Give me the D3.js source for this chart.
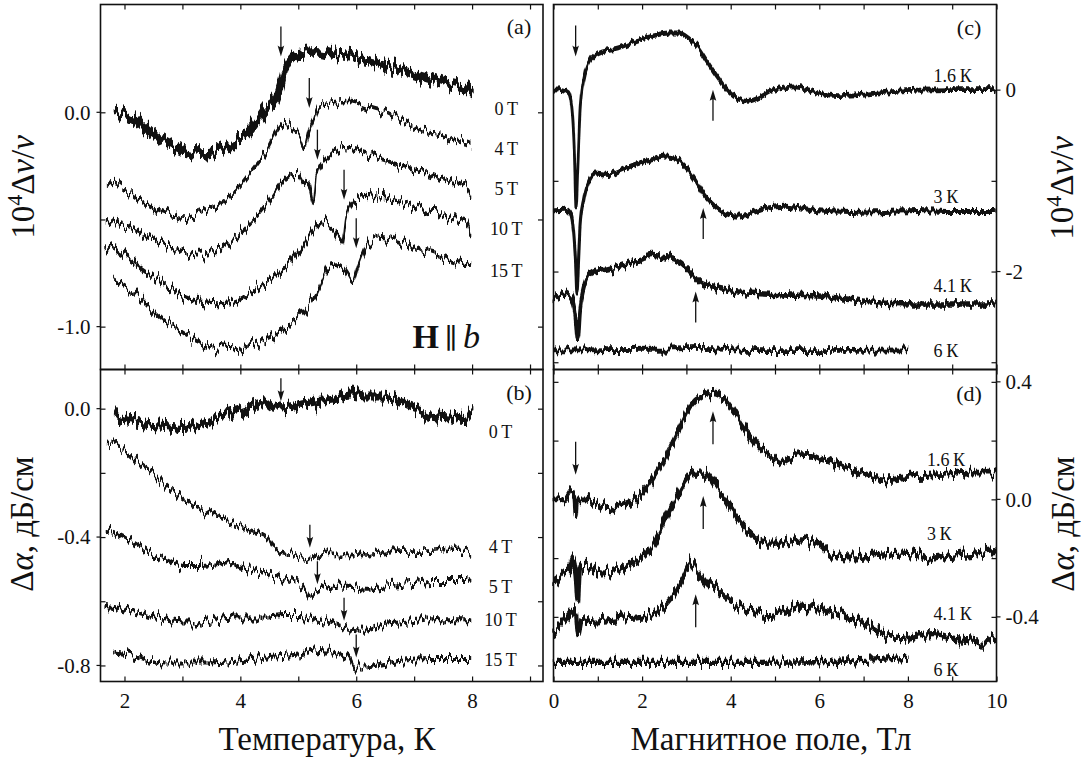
<!DOCTYPE html>
<html>
<head>
<meta charset="utf-8">
<script src="https://cdn.jsdelivr.net/npm/d3@7"></script>
<style>
  html, body { margin: 0; padding: 0; background: #fff; }
  svg, svg text { font-family: "Liberation Serif", "DejaVu Serif", serif; }
</style>
</head>
<body>
<script>
// ---------------- data ----------------
// (a) 10^4 Δv/v versus temperature, K, at fixed magnetic field
const fieldLabels = ["0\u2009Т", "4\u2009Т", "5\u2009Т", "10\u2009Т", "15\u2009Т"];
const dvT_0T = [[1.87,0.005],[2.17,-0.034],[2.46,-0.097],[2.74,-0.143],[3.03,-0.182],[3.31,-0.193],[3.6,-0.182],[3.89,-0.143],[4.17,-0.081],[4.46,0.028],[4.6,0.059],[4.69,0.121],[4.77,0.2],[4.89,0.254],[5.03,0.277],[5.31,0.285],[5.6,0.27],[5.89,0.262],[6.17,0.246],[6.46,0.223],[6.74,0.2],[7.03,0.176],[7.31,0.153],[7.6,0.129],[7.89,0.106],[7.97,0.09]];
const dvT_4T = [[1.71,-0.315],[1.89,-0.338],[2.17,-0.393],[2.46,-0.439],[2.74,-0.47],[3.03,-0.494],[3.31,-0.47],[3.6,-0.439],[3.89,-0.377],[4.17,-0.283],[4.46,-0.174],[4.63,-0.089],[4.74,-0.058],[4.89,-0.073],[5.03,-0.112],[5.11,-0.159],[5.17,-0.104],[5.26,-0.042],[5.37,0.028],[5.6,0.044],[5.89,0.051],[6.17,0.028],[6.46,0.005],[6.74,-0.034],[7.03,-0.073],[7.31,-0.097],[7.6,-0.12],[7.89,-0.143],[7.97,-0.151]];
const dvT_5T = [[1.69,-0.502],[1.89,-0.517],[2.17,-0.548],[2.46,-0.587],[2.74,-0.618],[3.03,-0.65],[3.31,-0.665],[3.6,-0.642],[3.89,-0.595],[4.17,-0.517],[4.46,-0.424],[4.74,-0.322],[4.89,-0.291],[5.0,-0.283],[5.09,-0.322],[5.2,-0.361],[5.26,-0.424],[5.31,-0.299],[5.4,-0.245],[5.54,-0.206],[5.77,-0.167],[6.06,-0.182],[6.46,-0.221],[6.74,-0.245],[7.03,-0.268],[7.31,-0.291],[7.6,-0.322],[7.89,-0.346],[7.97,-0.377]];
const dvT_10T = [[1.67,-0.626],[1.89,-0.657],[2.17,-0.704],[2.46,-0.759],[2.74,-0.813],[3.03,-0.86],[3.31,-0.883],[3.6,-0.891],[3.89,-0.883],[4.17,-0.844],[4.46,-0.79],[4.74,-0.735],[5.03,-0.642],[5.26,-0.548],[5.37,-0.517],[5.54,-0.533],[5.69,-0.579],[5.76,-0.618],[5.83,-0.486],[5.94,-0.424],[6.17,-0.385],[6.46,-0.4],[6.74,-0.416],[7.03,-0.439],[7.31,-0.463],[7.6,-0.494],[7.89,-0.509],[7.97,-0.564]];
const dvT_15T = [[1.82,-0.79],[2.17,-0.844],[2.46,-0.914],[2.74,-0.977],[3.03,-1.031],[3.31,-1.07],[3.6,-1.093],[3.89,-1.101],[4.17,-1.086],[4.46,-1.055],[4.74,-1.016],[5.03,-0.946],[5.31,-0.844],[5.54,-0.72],[5.71,-0.712],[5.86,-0.759],[5.94,-0.79],[6.03,-0.72],[6.17,-0.626],[6.34,-0.579],[6.57,-0.587],[6.86,-0.611],[7.14,-0.65],[7.43,-0.673],[7.71,-0.696],[7.97,-0.712]];
// transition temperatures marked by arrows: [T, value at arrow tip]
const dvT_arrows = [[4.70,0.26],[5.19,0.02],[5.33,-0.221],[5.79,-0.408],[6.0,-0.634]];

// (b) Δα, dB/cm versus temperature
const attT_0T = [[1.87,-0.024],[2.17,-0.039],[2.46,-0.05],[2.74,-0.055],[3.03,-0.06],[3.31,-0.045],[3.6,-0.024],[3.89,-0.008],[4.17,0.007],[4.4,0.02],[4.57,0.0],[4.8,0.002],[5.03,0.012],[5.31,0.023],[5.6,0.028],[5.89,0.044],[6.17,0.038],[6.46,0.038],[6.74,0.023],[7.03,0.002],[7.31,-0.019],[7.6,-0.024],[7.89,-0.029],[7.97,-0.008]];
const attT_4T = [[1.71,-0.105],[1.89,-0.118],[2.17,-0.159],[2.46,-0.195],[2.74,-0.241],[3.03,-0.283],[3.31,-0.314],[3.6,-0.335],[3.89,-0.361],[4.17,-0.381],[4.46,-0.402],[4.57,-0.433],[4.74,-0.449],[5.03,-0.459],[5.2,-0.47],[5.49,-0.454],[5.89,-0.454],[6.17,-0.459],[6.46,-0.449],[6.74,-0.444],[7.31,-0.444],[7.6,-0.438],[7.89,-0.438],[7.97,-0.449]];
const attT_5T = [[1.69,-0.381],[1.89,-0.392],[2.17,-0.418],[2.46,-0.449],[2.74,-0.47],[3.03,-0.49],[3.31,-0.49],[3.6,-0.485],[3.77,-0.475],[4.0,-0.495],[4.29,-0.506],[4.57,-0.521],[4.86,-0.537],[5.09,-0.552],[5.2,-0.584],[5.31,-0.568],[5.6,-0.552],[5.89,-0.552],[6.17,-0.558],[6.46,-0.552],[6.74,-0.547],[7.03,-0.542],[7.31,-0.537],[7.89,-0.537],[7.97,-0.542]];
const attT_10T = [[1.67,-0.615],[1.89,-0.62],[2.17,-0.635],[2.46,-0.651],[2.74,-0.661],[3.03,-0.666],[3.31,-0.666],[3.6,-0.656],[3.89,-0.651],[4.46,-0.651],[4.74,-0.646],[5.03,-0.646],[5.31,-0.656],[5.6,-0.672],[5.89,-0.687],[6.17,-0.692],[6.46,-0.672],[6.74,-0.666],[7.03,-0.661],[7.31,-0.656],[7.97,-0.656]];
const attT_15T = [[1.82,-0.76],[2.17,-0.77],[2.46,-0.786],[2.74,-0.791],[3.31,-0.791],[3.89,-0.786],[4.46,-0.775],[5.03,-0.765],[5.37,-0.755],[5.71,-0.765],[5.89,-0.78],[5.97,-0.806],[6.17,-0.806],[6.46,-0.796],[6.74,-0.786],[7.31,-0.78],[7.97,-0.78]];
const attT_arrows = [[4.70,0.023],[5.2,-0.433],[5.33,-0.547],[5.79,-0.661],[6.0,-0.775]];

// (c) 10^4 Δv/v versus magnetic field, T, at fixed temperature
const tempLabels = ["1.6\u2009К", "3\u2009К", "4.1\u2009К", "6\u2009К"];
const dvH_16K = [[0.02,0],[0.19,0.005],[0.34,-0.03],[0.41,-0.18],[0.47,-0.66],[0.51,-1.30],[0.55,-0.84],[0.6,-0.22],[0.68,0.116],[0.79,0.3],[0.94,0.39],[1.09,0.43],[1.46,0.466],[1.84,0.54],[2.22,0.594],[2.59,0.63],[2.82,0.63],[3.04,0.576],[3.27,0.466],[3.49,0.3],[3.72,0.134],[3.94,-0.013],[4.17,-0.097],[4.39,-0.123],[4.62,-0.087],[4.92,-0.013],[5.22,0.024],[5.44,0.035],[5.74,0.005],[6.04,-0.039],[6.42,-0.06],[6.87,-0.05],[7.47,-0.024],[8.22,0],[8.97,0.005],[9.95,0.005]];
const dvH_3K = [[0.02,-1.32],[0.26,-1.314],[0.38,-1.355],[0.45,-1.54],[0.5,-1.907],[0.53,-2.24],[0.56,-1.94],[0.6,-1.5],[0.68,-1.21],[0.79,-1.005],[0.94,-0.915],[1.24,-0.93],[1.46,-0.895],[1.84,-0.82],[2.22,-0.767],[2.52,-0.738],[2.74,-0.75],[2.97,-0.84],[3.19,-0.988],[3.42,-1.17],[3.64,-1.28],[3.87,-1.355],[4.17,-1.39],[4.47,-1.355],[4.84,-1.3],[5.22,-1.28],[5.59,-1.3],[5.97,-1.33],[6.72,-1.348],[7.47,-1.337],[8.22,-1.326],[8.97,-1.337],[9.95,-1.337]];
const dvH_41K = [[0.02,-2.295],[0.26,-2.24],[0.41,-2.295],[0.49,-2.46],[0.55,-2.754],[0.6,-2.42],[0.68,-2.2],[0.79,-2.055],[0.94,-2.0],[1.24,-1.98],[1.46,-1.944],[1.84,-1.89],[2.22,-1.834],[2.59,-1.852],[2.89,-1.907],[3.12,-2.018],[3.34,-2.13],[3.72,-2.184],[4.09,-2.22],[4.47,-2.24],[5.22,-2.257],[5.97,-2.27],[6.72,-2.31],[7.47,-2.35],[8.22,-2.358],[9.95,-2.358]];
const dvH_6K = [[0.02,-2.864],[2.22,-2.857],[3.34,-2.846],[4.47,-2.871],[5.97,-2.871],[7.98,-2.864]];
const dvH_arrowsDown = [[0.5,0.37]];
const dvH_arrowsUp = [[3.6,0.005],[3.38,-1.3],[3.21,-2.22]];

// (d) Δα, dB/cm versus magnetic field
const attH_16K = [[0.02,0],[0.26,0],[0.41,0.028],[0.47,0.011],[0.5,-0.051],[0.53,0],[0.71,0],[1.09,-0.023],[1.28,-0.034],[1.46,-0.023],[1.84,0],[2.07,0.028],[2.22,0.062],[2.44,0.119],[2.67,0.187],[2.89,0.255],[3.12,0.323],[3.34,0.351],[3.57,0.362],[3.79,0.351],[4.02,0.311],[4.24,0.255],[4.47,0.21],[4.69,0.17],[4.92,0.147],[5.14,0.125],[5.29,0.136],[5.52,0.153],[5.82,0.155],[6.04,0.142],[6.34,0.125],[6.72,0.102],[7.1,0.079],[7.47,0.068],[7.85,0.074],[8.22,0.079],[8.97,0.085],[9.35,0.091],[9.95,0.091]];
const attH_3K = [[0.02,-0.289],[0.19,-0.255],[0.38,-0.232],[0.45,-0.204],[0.5,-0.255],[0.55,-0.345],[0.6,-0.232],[0.71,-0.226],[1.09,-0.249],[1.46,-0.238],[1.84,-0.215],[2.07,-0.193],[2.29,-0.142],[2.52,-0.074],[2.74,-0.006],[2.97,0.057],[3.19,0.091],[3.42,0.091],[3.64,0.051],[3.87,0],[4.09,-0.051],[4.32,-0.096],[4.54,-0.13],[4.84,-0.147],[5.22,-0.147],[5.59,-0.136],[5.97,-0.153],[6.34,-0.193],[6.72,-0.198],[7.1,-0.193],[7.47,-0.187],[7.85,-0.181],[8.22,-0.187],[8.6,-0.204],[8.97,-0.193],[9.35,-0.187],[9.95,-0.176]];
const attH_41K = [[0.02,-0.447],[0.19,-0.425],[0.41,-0.385],[0.5,-0.374],[0.56,-0.459],[0.64,-0.408],[0.86,-0.413],[1.24,-0.408],[1.61,-0.402],[1.99,-0.396],[2.37,-0.379],[2.67,-0.334],[2.93,-0.266],[3.12,-0.215],[3.27,-0.243],[3.49,-0.289],[3.72,-0.311],[4.09,-0.357],[4.47,-0.379],[4.84,-0.391],[5.22,-0.379],[5.59,-0.362],[5.97,-0.368],[6.34,-0.379],[6.72,-0.396],[7.1,-0.43],[7.47,-0.459],[7.85,-0.476],[8.22,-0.464],[8.6,-0.459],[8.97,-0.47],[9.35,-0.476],[9.72,-0.481],[9.95,-0.47]];
const attH_6K = [[0.02,-0.555],[2.22,-0.555],[4.47,-0.555],[6.72,-0.55],[7.47,-0.544],[7.98,-0.538]];
const attH_arrowsDown = [[0.5,0.084]];
const attH_arrowsUp = [[3.6,0.30],[3.38,0.0115],[3.21,-0.323]];

// axis ticks
const tempTicks = [2, 3, 4, 5, 6, 7, 8, 9];
const tempTickLabels = [2, 4, 6, 8];
const fieldTicks = [0, 1, 2, 3, 4, 5, 6, 7, 8, 9, 10];
const fieldTickLabels = [0, 2, 4, 6, 8, 10];
const dvTTicks = [0, -0.5, -1.0];
const dvTTickLabels = [0, -1.0];
const attTTicks = [0, -0.2, -0.4, -0.6, -0.8];
const attTTickLabels = [0, -0.4, -0.8];
const dvHTicks = [0, -1, -2, -3];
const dvHTickLabels = [0, -2];
const attHTicks = [0.4, 0.2, 0, -0.2, -0.4];
const attHTickLabels = [0.4, 0, -0.4];

// ---------------- layout ----------------
const W = 1082, H = 763;
const ink = "#111";
const serif = "'Liberation Serif', 'DejaVu Serif', serif";
const svg = d3.select("body").append("svg")
  .attr("width", W).attr("height", H).attr("font-family", serif);
const defs = svg.append("defs");

// measurement scatter is rendered as a fine vertical jitter of the stroke
let seedCounter = 3;
function jitterFilter(amp) {
  const id = "jitter" + seedCounter;
  const f = defs.append("filter").attr("id", id)
    .attr("filterUnits", "userSpaceOnUse").attr("x", 0).attr("y", 0)
    .attr("width", W).attr("height", H)
    .attr("color-interpolation-filters", "sRGB");
  f.append("feTurbulence").attr("type", "fractalNoise")
    .attr("baseFrequency", "0.33 0.03").attr("numOctaves", 2)
    .attr("seed", seedCounter).attr("result", "n");
  f.append("feColorMatrix").attr("in", "n").attr("type", "matrix")
    .attr("values", "0 0 0 0 0.5  0 1 0 0 0  0 0 0 0 0  0 0 0 0 1").attr("result", "m");
  f.append("feDisplacementMap").attr("in", "SourceGraphic").attr("in2", "m")
    .attr("scale", amp).attr("xChannelSelector", "R").attr("yChannelSelector", "G")
    .attr("result", "d");
  // close the small gaps between neighbouring displaced columns
  f.append("feMorphology").attr("in", "d").attr("operator", "dilate").attr("radius", "0 0.7");
  seedCounter += 7;
  return `url(#${id})`;
}

const colL = [100.5, 543], colR = [553.5, 996.5];
const rowT = [4.5, 369.5], rowB = [369.5, 681.5];

const xT = d3.scaleLinear().domain([1.586, 9.224]).range(colL);
const xH = d3.scaleLinear().domain([0, 10]).range(colR);
const yA = d3.scaleLinear().domain([-1.2, 0.503]).range([rowT[1], rowT[0]]);
const yB = d3.scaleLinear().domain([-0.85, 0.122]).range([rowB[1], rowB[0]]);
const yC = d3.scaleLinear().domain([-3.08, 0.944]).range([rowT[1], rowT[0]]);
const yD = d3.scaleLinear().domain([-0.62, 0.442]).range([rowB[1], rowB[0]]);

const has = (list, v) => list.some(d => Math.abs(d - v) < 1e-9);
const fmt = digits => d => (d < -1e-9 ? "-" : "") + Math.abs(d).toFixed(digits);

function panel(cfg) {
  const { x, y, xTicks, xLabels, yTicks, yLabels, yFmt, ySide, bottomLabels } = cfg;
  const g = svg.append("g");
  const [x0, x1] = x.range();
  const [y1, y0] = y.range();
  const tick = 5;

  const styleAxis = sel => {
    sel.select(".domain").remove();
    sel.attr("font-size", null).attr("font-family", serif);
    sel.selectAll(".tick line").attr("stroke", ink).attr("stroke-width", 1.2);
    sel.selectAll(".tick text").attr("fill", ink).attr("font-size", 21);
  };

  // top and bottom ticks
  g.append("g").attr("transform", `translate(0,${y0})`)
    .call(d3.axisTop(x).tickValues(xTicks).tickSize(-tick).tickFormat(""))
    .call(styleAxis);
  g.append("g").attr("transform", `translate(0,${y1})`)
    .call(d3.axisBottom(x).tickValues(xTicks).tickSize(-tick).tickPadding(12)
      .tickFormat(d => bottomLabels && has(xLabels, d) ? String(d) : ""))
    .call(styleAxis);

  // left and right ticks; labels on one side only
  g.append("g").attr("transform", `translate(${x0},0)`)
    .call(d3.axisLeft(y).tickValues(yTicks).tickSize(-tick).tickPadding(10)
      .tickFormat(d => ySide === "left" && has(yLabels, d) ? yFmt(d) : ""))
    .call(styleAxis);
  g.append("g").attr("transform", `translate(${x1},0)`)
    .call(d3.axisRight(y).tickValues(yTicks).tickSize(-tick).tickPadding(9)
      .tickFormat(d => ySide === "right" && has(yLabels, d) ? yFmt(d) : ""))
    .call(styleAxis);

  // labelled value ticks also poke outside the frame
  const edge = ySide === "left" ? x0 : x1, dir = ySide === "left" ? -1 : 1;
  g.selectAll(null).data(yLabels).join("line")
    .attr("x1", edge).attr("x2", edge + dir * 4)
    .attr("y1", d => y(d)).attr("y2", d => y(d))
    .attr("stroke", ink).attr("stroke-width", 1.2);

  // curves
  const line = d3.line().x(d => x(d[0])).y(d => y(d[1])).curve(d3.curveMonotoneX);
  cfg.series.forEach(s => {
    g.append("path").datum(s.data).attr("d", line)
      .attr("fill", "none").attr("stroke", ink)
      .attr("stroke-width", s.w).attr("stroke-linejoin", "round").attr("stroke-linecap", "round")
      .attr("filter", jitterFilter(s.jit));
  });

  // arrows: tip at the given point, down (pointing at curve from above) or up
  const drawArrow = (d, down, len) => {
    const px = x(d[0]), tip = y(d[1]);
    const s = down ? -1 : 1;          // direction from tip towards tail
    const head = 11, half = 3.3;
    g.append("line").attr("x1", px).attr("x2", px)
      .attr("y1", tip + s * (head - 2)).attr("y2", tip + s * len)
      .attr("stroke", ink).attr("stroke-width", 1.3);
    g.append("path")
      .attr("d", `M${px},${tip} L${px - half},${tip + s * head} Q${px},${tip + s * (head - 3)} ${px + half},${tip + s * head} Z`)
      .attr("fill", ink);
  };
  (cfg.arrowsDown || []).forEach(d => drawArrow(d, true, cfg.arrowLen));
  (cfg.arrowsUp || []).forEach(d => drawArrow(d, false, cfg.arrowLen));

  // curve labels
  cfg.labels.forEach((t, i) => {
    const p = cfg.labelPos[i];
    g.append("text").attr("x", x(p[0])).attr("y", y(p[1]))
      .attr("text-anchor", cfg.labelAnchor).attr("font-size", 18).attr("fill", ink)
      .text(t);
  });

  // panel letter
  g.append("text").attr("x", x(cfg.letterPos[0])).attr("y", y(cfg.letterPos[1]))
    .attr("text-anchor", "middle").attr("font-size", 22).attr("fill", ink).text(cfg.letter);

  // frame
  g.append("rect").attr("x", x0).attr("y", y0).attr("width", x1 - x0).attr("height", y1 - y0)
    .attr("fill", "none").attr("stroke", ink).attr("stroke-width", 1.6);
  return g;
}

panel({
  x: xT, y: yA, xTicks: tempTicks, xLabels: tempTickLabels, bottomLabels: false,
  yTicks: dvTTicks, yLabels: dvTTickLabels, yFmt: fmt(1), ySide: "left",
  series: [{ data: dvT_0T, w: 6.6, jit: 24 }, { data: dvT_4T, w: 1.8, jit: 20 },
           { data: dvT_5T, w: 2.0, jit: 22 }, { data: dvT_10T, w: 2.2, jit: 24 },
           { data: dvT_15T, w: 2.0, jit: 22 }],
  arrowsDown: dvT_arrows, arrowLen: 30,
  labels: fieldLabels, labelAnchor: "middle",
  labelPos: [[8.59, -0.013], [8.59, -0.199], [8.59, -0.386], [8.59, -0.572], [8.59, -0.768]],
  letter: "(a)", letterPos: [8.81, 0.365]
});

panel({
  x: xT, y: yB, xTicks: tempTicks, xLabels: tempTickLabels, bottomLabels: true,
  yTicks: attTTicks, yLabels: attTTickLabels, yFmt: fmt(1), ySide: "left",
  series: [{ data: attT_0T, w: 6.0, jit: 24 }, { data: attT_4T, w: 1.7, jit: 18 },
           { data: attT_5T, w: 2.0, jit: 22 }, { data: attT_10T, w: 2.0, jit: 20 },
           { data: attT_15T, w: 2.0, jit: 20 }],
  arrowsDown: attT_arrows, arrowLen: 23,
  labels: fieldLabels, labelAnchor: "middle",
  labelPos: [[8.49, -0.091], [8.49, -0.450], [8.49, -0.574], [8.49, -0.677], [8.49, -0.802]],
  letter: "(b)", letterPos: [8.81, 0.027]
});

panel({
  x: xH, y: yC, xTicks: fieldTicks, xLabels: fieldTickLabels, bottomLabels: false,
  yTicks: dvHTicks, yLabels: dvHTickLabels, yFmt: fmt(0), ySide: "right",
  series: [{ data: dvH_16K, w: 2.8, jit: 9 }, { data: dvH_3K, w: 3.0, jit: 10 },
           { data: dvH_41K, w: 3.6, jit: 15 }, { data: dvH_6K, w: 2.8, jit: 14 }],
  arrowsDown: dvH_arrowsDown, arrowsUp: dvH_arrowsUp, arrowLen: 31,
  labels: tempLabels, labelAnchor: "start",
  labelPos: [[8.58, 0.089], [8.58, -1.242], [8.58, -2.223], [8.58, -2.939]],
  letter: "(c)", letterPos: [9.38, 0.605]
});

panel({
  x: xH, y: yD, xTicks: fieldTicks, xLabels: fieldTickLabels, bottomLabels: true,
  yTicks: attHTicks, yLabels: attHTickLabels, yFmt: fmt(1), ySide: "right",
  series: [{ data: attH_16K, w: 3.8, jit: 20 }, { data: attH_3K, w: 4.2, jit: 22 },
           { data: attH_41K, w: 4.2, jit: 22 }, { data: attH_6K, w: 3.4, jit: 20 }],
  arrowsDown: attH_arrowsDown, arrowsUp: attH_arrowsUp, arrowLen: 33,
  labels: tempLabels, labelAnchor: "start",
  labelPos: [[8.43, 0.115], [8.43, -0.139], [8.58, -0.411], [8.58, -0.601]],
  letter: "(d)", letterPos: [9.38, 0.335]
});

// field orientation note in panel (a)
const note = svg.append("text").attr("x", xT(6.97)).attr("y", yA(-1.099))
  .attr("font-size", 34).attr("fill", ink);
note.append("tspan").attr("font-weight", "bold").text("H");
note.append("tspan").attr("font-family", "'DejaVu Serif', serif").attr("font-size", 28).text("\u2009\u2225\u2009");
note.append("tspan").attr("font-style", "italic").text("b");

// axis titles
function dvTitle(cx, cy) {
  const t = svg.append("text").attr("transform", `translate(${cx},${cy}) rotate(-90)`)
    .attr("text-anchor", "middle").attr("font-size", 33).attr("fill", ink);
  t.append("tspan").text("10");
  t.append("tspan").attr("font-size", 22).attr("dy", -12).text("4");
  t.append("tspan").attr("dy", 12).text("\u0394");
  t.append("tspan").attr("font-style", "italic").text("v");
  t.append("tspan").text("/");
  t.append("tspan").attr("font-style", "italic").text("v");
}
function attTitle(cx, cy) {
  const t = svg.append("text").attr("transform", `translate(${cx},${cy}) rotate(-90)`)
    .attr("text-anchor", "middle").attr("font-size", 33).attr("fill", ink);
  t.append("tspan").text("\u0394");
  t.append("tspan").attr("font-style", "italic").text("\u03b1");
  t.append("tspan").text(", дБ/см");
}
dvTitle(34, 187);
attTitle(33, 524);
dvTitle(1073, 188);
attTitle(1074, 524);

svg.append("text").attr("x", 327).attr("y", 750).attr("text-anchor", "middle")
  .attr("font-size", 33).attr("fill", ink).text("Температура, К");
svg.append("text").attr("x", 771).attr("y", 750).attr("text-anchor", "middle")
  .attr("font-size", 33).attr("fill", ink).text("Магнитное поле, Тл");
</script>
</body>
</html>
